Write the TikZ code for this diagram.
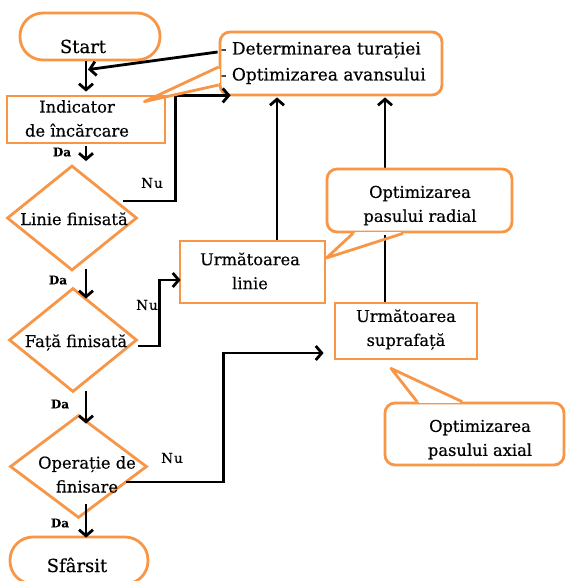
\documentclass[tikz,border=0pt]{standalone}
\usepackage{fontspec}
\setmainfont[FakeBold=0.35]{DejaVu Serif}
\usetikzlibrary{arrows.meta,calc,shapes.geometric}
\definecolor{obrd}{RGB}{247,150,70}
\begin{document}
\begin{tikzpicture}[x=1pt,y=-1pt,
  every node/.style={inner sep=0pt},
  txt/.style={font=\fontsize{16.3}{24}\selectfont, align=center, text=black},
  bigtxt/.style={font=\fontsize{18}{20}\selectfont, text=black},
  obox/.style={draw=obrd, line width=2.8pt, fill=white},
  term/.style={obox, rounded corners=23pt, minimum height=47pt},
  bub/.style={obox, rounded corners=10pt},
  dia/.style={obox, diamond},
  conn/.style={line width=2.8pt, -{Straight Barb[length=6pt,width=14pt]}},
  ptr/.style={draw=obrd, line width=2.8pt, line join=round},
  erase/.style={draw=white, line width=3.6pt},
  da/.style={font=\fontsize{12}{14}\selectfont\bfseries, text=black},
  nu/.style={font=\fontsize{13.5}{15}\selectfont, text=black}
]
\useasboundingbox (0,0) rectangle (567,581);

% shapes
\node[term, minimum width=140pt] (start) at (90,36.5) {};
\node[obox, minimum width=158pt, minimum height=47pt] (ind) at (86,119.5) {};
\node[dia, minimum width=130pt, minimum height=105pt] (d1) at (72,218) {};
\node[dia, minimum width=128pt, minimum height=104pt] (d2) at (73,340) {};
\node[dia, minimum width=137pt, minimum height=103pt] (d3) at (78.5,466.5) {};
\node[term, minimum width=138pt] (sf) at (79,560.5) {};
\node[obox, minimum width=145pt, minimum height=62pt] (ul) at (252.5,272) {};
\node[obox, minimum width=142pt, minimum height=56pt] (us) at (406,331) {};
\node[bub, minimum width=222pt, minimum height=63pt] (c1) at (331,63.5) {};
\node[bub, minimum width=179pt, minimum height=62pt] (c3) at (474.5,434) {};

% connectors
\draw[conn] ($(c1.west)+(-1,-11.5)$) -- ($(ind.north)+(2,-25)$);
\draw[conn] (ind.north |- start.south) -- ($(ind.north)+(0,-3)$);
\draw[conn] ($(ind.south)+(0,2)$) -- ($(d1.north -| ind.south)+(0,-3)$);
\draw[conn] ($(d1.south)+(14,-3)$) -- ($(d2.north)+(13,12)$);
\draw[conn] ($(d2.south)+(13,-2)$) -- ($(d3.north)+(7.5,10)$);
\draw[conn] ($(d3.south)+(7.5,-15)$) -- ($(sf.north)+(7,2)$);
\draw[conn] ($(d1.east)+(-15,-17)$) -| ($(c1.south west)+(-43,-1)$) -- ($(c1.south west)+(12,-1)$);
\draw[conn] ($(d2.east)+(0,6)$) -| ($(ul.west)+(-19,8)$) -- ($(ul.west)+(2,8)$);
\draw[conn] ($(d3.east)+(-22,15.5)$) -| ($(us.west)+(-110,22)$) -- ($(us.west)+(-10,22)$);
\draw[conn] ($(ul.north)+(24.5,0)$) -- ($(c1.south)+(-54,1)$);
\draw[conn] ($(us.north)+(-21,0)$) -- ($(c1.south)+(54,1)$);

% radial callout over the line
\node[bub, minimum width=185pt, minimum height=63pt] (c2) at (419.5,200.5) {};

% callout pointers
\draw[erase] ($(c1.west)+(0,5.5)$) -- ($(c1.west)+(0,19.5)$);
\draw[ptr] ($(c1.west)+(0,3.5)$) -- ($(ind.north east)+(-22,7)$) -- ($(c1.west)+(0,21.5)$);
\draw[erase] ($(c2.south)+(-64.5,0)$) -- ($(c2.south)+(-18.5,0)$);
\draw[ptr] ($(c2.south)+(-66.5,0)$) -- ($(ul.east)+(0,-14)$) -- ($(c2.south)+(-16.5,0)$);
\draw[erase] ($(c3.north)+(-55.5,0)$) -- ($(c3.north)+(-14.5,0)$);
\draw[ptr] ($(c3.north)+(-57.5,0)$) -- ($(us.south)+(-15,8)$) -- ($(c3.north)+(-12.5,0)$);

% texts
\node[bigtxt, anchor=base] (startt) at ($(start.center)+(-7,16.5)$) {Start};
\node[txt] (indt) at ($(ind.center)+(-9,-1)$) {Indicator\\de încărcare};
\node[txt, anchor=base] (d1t) at ($(d1.center)+(2,7)$) {Linie finisată};
\node[txt, anchor=base] (d2t) at ($(d2.center)+(3,7)$) {Față finisată};
\node[txt] (d3t) at ($(d3.center)+(8.5,8)$) {Operație de\\finisare};
\node[bigtxt, anchor=base] (sft) at ($(sf.center)+(-2,11.5)$) {Sfârsit};
\node[txt] (ult) at ($(ul.center)+(-2.5,-1)$) {Următoarea\\linie};
\node[txt] (ust) at ($(us.center)+(0,-1.5)$) {Următoarea\\suprafață};
\node[txt, font=\fontsize{17}{26}\selectfont, align=left, anchor=west] (c1t) at ($(c1.west)+(2,-0.5)$) {- Determinarea turației\\- Optimizarea avansului};
\node[txt] (c2t) at ($(c2.center)+(0.5,5)$) {Optimizarea\\pasului radial};
\node[txt] (c3t) at ($(c3.center)+(5.5,5.5)$) {Optimizarea\\pasului axial};

% branch labels
\node[da] (da1) at (62,152) {Da};
\node[da] (da2) at (58,280) {Da};
\node[da] (da3) at (60,404) {Da};
\node[da] (da4) at (60,523) {Da};
\node[nu] (nu1) at (152,183) {N\kern1pt u};
\node[nu] (nu2) at (147,305) {N\kern1pt u};
\node[nu] (nu3) at (172,458) {N\kern1pt u};
\end{tikzpicture}
\end{document}
